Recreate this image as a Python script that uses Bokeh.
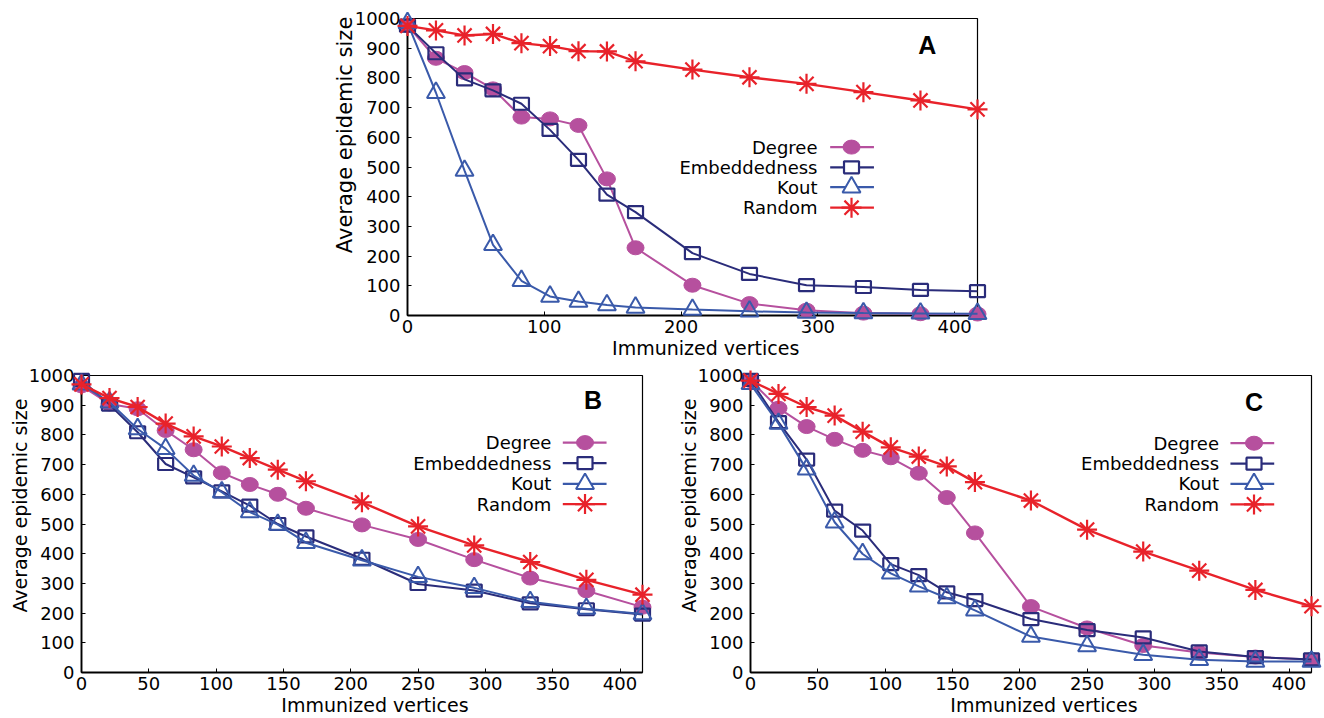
import math
from bokeh.plotting import figure
from bokeh.models import Range1d, FixedTicker
from bokeh.layouts import column, row
from bokeh.core.properties import value
from bokeh.embed import file_html
from bokeh.resources import INLINE

# Immunized vertices (x positions shared by all panels)
immunized = [0, 20.8, 41.7, 62.5, 83.3, 104.2, 125, 145.8, 166.7, 208.3, 250, 291.7, 333.3, 375, 416.7]

# Panel A
degree_a = [976, 866, 818, 763, 668, 662, 640, 460, 228, 102, 40, 18, 8, 6, 5]
embedded_a = [976, 883, 795, 758, 713, 625, 524, 407, 348, 210, 140, 102, 96, 86, 82]
kout_a = [985, 750, 488, 238, 117, 64, 47, 35, 27, 20, 14, 10, 8, 7, 6]
random_a = [975, 960, 943, 948, 917, 907, 890, 889, 856, 828, 802, 780, 752, 724, 694]

# Panel B
degree_b = [965, 904, 888, 815, 750, 672, 633, 600, 553, 497, 448, 380, 318, 275, 220]
embedded_b = [985, 902, 809, 702, 657, 610, 562, 500, 458, 383, 298, 276, 233, 213, 195]
kout_b = [970, 910, 820, 753, 663, 607, 540, 498, 437, 378, 322, 285, 238, 215, 197]
random_b = [970, 924, 894, 838, 795, 761, 722, 683, 644, 573, 492, 428, 372, 312, 262]

# Panel C
degree_c = [983, 890, 828, 785, 748, 723, 671, 589, 470, 222, 150, 91, 67, 52, 44]
embedded_c = [985, 843, 717, 545, 478, 365, 328, 270, 244, 180, 143, 118, 71, 52, 44]
kout_c = [972, 838, 684, 506, 399, 334, 290, 251, 209, 121, 89, 60, 43, 37, 37]
random_c = [983, 938, 894, 865, 811, 758, 727, 694, 641, 579, 481, 407, 343, 278, 223]

series_names = ["Degree", "Embeddedness", "Kout", "Random"]
y_ticks = [0, 100, 200, 300, 400, 500, 600, 700, 800, 900, 1000]
x_ticks_a = [0, 100, 200, 300, 400]
x_ticks_bc = [0, 50, 100, 150, 200, 250, 300, 350, 400]
x_title = "Immunized vertices"
y_title = "Average epidemic size"

C_DEG = "#b6509e"
C_EMB = "#2a2c7a"
C_KOUT = "#3a5aaa"
C_RAND = "#e8222a"
FONT = "DejaVu Sans"


def make_panel(width, height, left, right, top, bottom, xticks):
    p = figure(width=width, height=height,
               x_range=Range1d(0, 416.7), y_range=Range1d(0, 1000),
               output_backend="svg", toolbar_location=None,
               min_border=0, min_border_left=left, min_border_right=right,
               min_border_top=top, min_border_bottom=bottom)
    p.grid.visible = False
    p.outline_line_color = "black"
    p.outline_line_width = 1.2
    p.background_fill_color = "white"
    p.border_fill_color = "white"
    p.xaxis.ticker = FixedTicker(ticks=xticks)
    p.yaxis.ticker = FixedTicker(ticks=y_ticks)
    for ax in (p.xaxis[0], p.yaxis[0]):
        ax.axis_line_color = "black"
        ax.axis_line_width = 1.8
        ax.major_tick_in = 4
        ax.major_tick_out = 0
        ax.major_tick_line_color = "black"
        ax.minor_tick_line_color = None
        ax.major_label_text_font = FONT
        ax.major_label_text_font_size = "18px"
        ax.major_label_text_color = "black"
    p.xaxis.major_label_standoff = 4
    p.yaxis.major_label_standoff = 7
    return p


def axis_titles(p, ysize, ycenter):
    # axis titles placed in the plot margins (overlay level is not clipped to the frame)
    tx = p.text([218], [-111], text=[x_title], text_align="center",
                text_baseline="middle", text_font=value(FONT),
                text_font_size="19px", text_color="black")
    ty = p.text([-46], [ycenter], text=[y_title], angle=math.pi / 2,
                text_align="center", text_baseline="middle", text_font=value(FONT),
                text_font_size=ysize, text_color="black")
    tx.level = "overlay"
    ty.level = "overlay"


def draw_series(p, deg, emb, kout, rnd):
    rs = []
    rs.append(p.line(immunized, deg, line_color=C_DEG, line_width=2))
    rs.append(p.ellipse(immunized, deg, width=17, height=14, width_units="screen",
                        height_units="screen", fill_color=C_DEG, line_color=C_DEG))
    rs.append(p.line(immunized, emb, line_color=C_EMB, line_width=2))
    rs.append(p.rect(immunized, emb, width=15, height=12, width_units="screen",
                     height_units="screen", fill_color=None, line_color=C_EMB,
                     line_width=2.2))
    rs.append(p.line(immunized, kout, line_color=C_KOUT, line_width=2))
    rs.append(p.scatter(immunized, kout, marker="triangle", size=18, fill_color=None,
                        line_color=C_KOUT, line_width=2))
    rs.append(p.line(immunized, rnd, line_color=C_RAND, line_width=2.4))
    rs.append(p.scatter(immunized, rnd, marker="asterisk", size=20, line_color=C_RAND,
                        line_width=2.2))
    # markers sit on top of the frame so the end points are not cut off
    for r in rs:
        r.level = "overlay"


def draw_key(p, text_x, seg_x0, seg_x1, mark_x, rows):
    colors = [C_DEG, C_EMB, C_KOUT, C_RAND]
    p.text([text_x] * 4, rows, text=series_names, text_align="right",
           text_baseline="middle", text_font=value(FONT), text_font_size="18px",
           text_color="black")
    for yv, c in zip(rows, colors):
        p.line([seg_x0, seg_x1], [yv, yv], line_color=c, line_width=2.2)
    p.ellipse([mark_x], [rows[0]], width=17, height=14, width_units="screen",
              height_units="screen", fill_color=C_DEG, line_color=C_DEG)
    p.rect([mark_x], [rows[1]], width=15, height=12, width_units="screen",
           height_units="screen", fill_color="white", line_color=C_EMB, line_width=2.2)
    p.scatter([mark_x], [rows[2]], marker="triangle", size=18, fill_color="white",
              line_color=C_KOUT, line_width=2)
    p.scatter([mark_x], [rows[3]], marker="asterisk", size=20, line_color=C_RAND,
              line_width=2.2)


def panel_letter(p, x, y, letter):
    p.text([x], [y], text=[letter], text_align="center", text_baseline="middle",
           text_font=value("Liberation Sans"), text_font_size="25px",
           text_font_style="bold", text_color="black")


pA = make_panel(1324, 360, 407, 347, 18, 45, x_ticks_a)
draw_series(pA, degree_a, embedded_a, kout_a, random_a)
draw_key(pA, 299.7, 309, 341, 324.6, [567, 499, 432, 363])
panel_letter(pA, 380, 910, "A")
axis_titles(pA, "21px", 608)

pB = make_panel(670, 358, 81, 28, 15, 46, x_ticks_bc)
draw_series(pB, degree_b, embedded_b, kout_b, random_b)
draw_key(pB, 349, 357.5, 390, 374, [774, 705, 635, 567])
panel_letter(pB, 380, 916, "B")
axis_titles(pB, "19px", 562)

pC = make_panel(654, 358, 80, 13, 15, 46, x_ticks_bc)
draw_series(pC, degree_c, embedded_c, kout_c, random_c)
draw_key(pC, 348, 356.5, 389, 374, [772, 703, 635, 566])
panel_letter(pC, 374, 910, "C")
axis_titles(pC, "19px", 562)

layout = column(pA, row(pB, pC))

open("out.html", "w").write(file_html(layout, INLINE))
